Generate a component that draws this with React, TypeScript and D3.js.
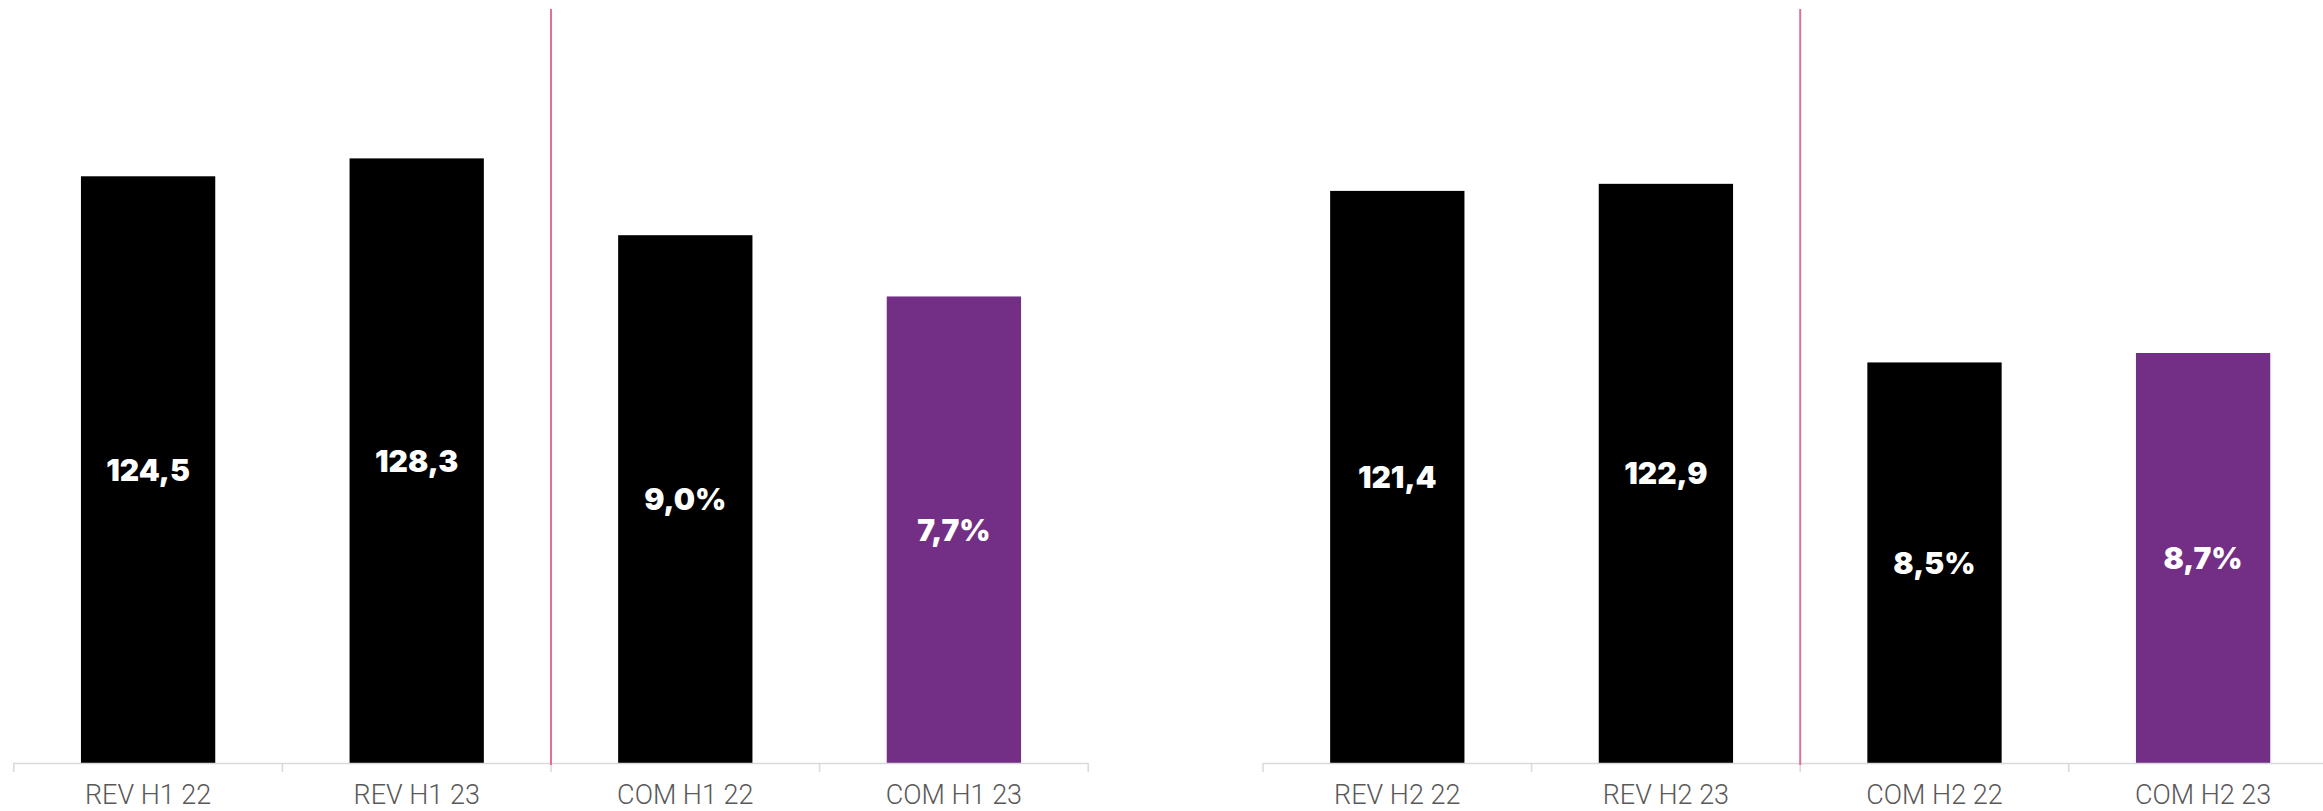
import React from "react";
import * as d3 from "d3";

const categoriesH1 = ["REV H1 22", "REV H1 23", "COM H1 22", "COM H1 23"];
const categoriesH2 = ["REV H2 22", "REV H2 23", "COM H2 22", "COM H2 23"];
const revValuesH1 = [124.5, 128.3];
const comValuesH1 = [9.0, 7.7];
const revValuesH2 = [121.4, 122.9];
const comValuesH2 = [8.5, 8.7];
const revLabelsH1 = ["124,5", "128,3"];
const comLabelsH1 = ["9,0%", "7,7%"];
const revLabelsH2 = ["121,4", "122,9"];
const comLabelsH2 = ["8,5%", "8,7%"];
const revDomain = [0, 160];
const comDomainH1 = [-2.2, 13.8];
const comDomainH2 = [0, 16];

const W = 2323;
const H = 811;
const TOP = 9;
const BOTTOM = 763;
const PANEL_W = 1074.4;

type PanelProps = {
  x0: number;
  categories: string[];
  rev: number[];
  com: number[];
  revLabels: string[];
  comLabels: string[];
  comDomain: number[];
};

function Panel({ x0, categories, rev, com, revLabels, comLabels, comDomain }: PanelProps) {
  const x = d3
    .scaleBand<string>()
    .domain(categories)
    .range([x0, x0 + PANEL_W])
    .paddingInner(0.5)
    .paddingOuter(0.25);
  const step = x.step();
  const yRev = d3.scaleLinear().domain(revDomain).range([BOTTOM, TOP]);
  const yCom = d3.scaleLinear().domain(comDomain).range([BOTTOM, TOP]);

  const bars = categories.map((c, i) => {
    const isRev = i < 2;
    const v = isRev ? rev[i] : com[i - 2];
    const yTop = isRev ? yRev(v) : yCom(v);
    const label = isRev ? revLabels[i] : comLabels[i - 2];
    const fill = i === 3 ? "#722F85" : "#000000";
    return { c, yTop, label, fill };
  });

  const ticks = d3.range(categories.length + 1).map((i) => x0 + i * step);
  const divider = x0 + 2 * step;

  return (
    <g>
      {bars.map((b) => (
        <rect
          key={b.c}
          x={x(b.c)}
          y={b.yTop}
          width={x.bandwidth()}
          height={BOTTOM - b.yTop}
          fill={b.fill}
        />
      ))}
      <line x1={x0} x2={x0 + PANEL_W} y1={BOTTOM + 0.5} y2={BOTTOM + 0.5} stroke="#D9D9D9" strokeWidth={1.5} />
      {ticks.map((t, i) => (
        <line key={i} x1={t} x2={t} y1={BOTTOM} y2={BOTTOM + 9} stroke="#D9D9D9" strokeWidth={1.5} />
      ))}
      <line x1={divider} x2={divider} y1={TOP} y2={BOTTOM + 2} stroke="#E0709A" strokeWidth={2} />
      {bars.map((b) => (
        <text
          key={b.c + "-v"}
          x={(x(b.c) as number) + x.bandwidth() / 2}
          y={(b.yTop + BOTTOM) / 2 + 11}
          textAnchor="middle"
          fill="#FFFFFF"
          fontFamily="Inter, 'Open Sans', sans-serif"
          fontWeight={900}
          fontSize={30}
        >
          {b.label}
        </text>
      ))}
      {categories.map((c) => (
        <text
          key={c + "-l"}
          x={(x(c) as number) + x.bandwidth() / 2}
          y={804}
          textAnchor="middle"
          fill="#595959"
          fontFamily="Roboto, sans-serif"
          fontWeight={300}
          fontSize={27}
        >
          {c}
        </text>
      ))}
    </g>
  );
}

export default function App() {
  return (
    <svg
      width={W}
      height={H}
      viewBox={`0 0 ${W} ${H}`}
      style={{ position: "fixed", left: 0, top: 0, background: "#FFFFFF" }}
    >
      <rect x={0} y={0} width={W} height={H} fill="#FFFFFF" />
      <Panel
        x0={13.8}
        categories={categoriesH1}
        rev={revValuesH1}
        com={comValuesH1}
        revLabels={revLabelsH1}
        comLabels={comLabelsH1}
        comDomain={comDomainH1}
      />
      <Panel
        x0={1263}
        categories={categoriesH2}
        rev={revValuesH2}
        com={comValuesH2}
        revLabels={revLabelsH2}
        comLabels={comLabelsH2}
        comDomain={comDomainH2}
      />
    </svg>
  );
}
